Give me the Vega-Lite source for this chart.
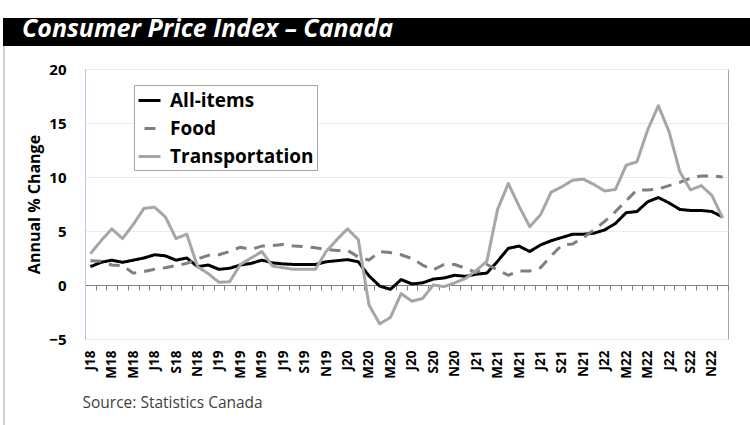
{
  "$schema": "https://vega.github.io/schema/vega-lite/v6.json",
  "width": 643,
  "height": 270,
  "autosize": {"type": "none"},
  "padding": {"left": 85, "top": 69, "right": 22, "bottom": 86},
  "background": "white",
  "config": {
    "font": "Open Sans",
    "view": {"stroke": "#a6a6a6"}
  },
  "layer": [
    {
      "data": {"values": [{}]},
      "mark": {"type": "rect", "color": "black"},
      "encoding": {
        "x": {"value": -82},
        "x2": {"value": 665},
        "y": {"value": -51},
        "y2": {"value": -23}
      }
    },
    {
      "data": {"values": [{"t": "Consumer Price Index – Canada"}]},
      "mark": {"type": "text", "color": "white", "font": "Open Sans", "fontSize": 25, "fontWeight": "bold", "fontStyle": "italic", "align": "left", "baseline": "alphabetic"},
      "encoding": {
        "text": {"field": "t", "type": "nominal"},
        "x": {"value": -63},
        "y": {"value": -32}
      }
    },
    {
      "data": {"values": [{}]},
      "mark": {"type": "rule", "color": "#a6a6a6", "strokeWidth": 1},
      "encoding": {
        "x": {"value": -81},
        "y": {"value": -23},
        "y2": {"value": 360}
      }
    },
    {
      "data": {
        "values": [
          {"month": "2018-01", "All-items": 1.7, "Food": 2.25, "Transportation": 2.9},
          {"month": "2018-02", "All-items": 2.1, "Food": 2.2, "Transportation": 4.1},
          {"month": "2018-03", "All-items": 2.3, "Food": 1.85, "Transportation": 5.2},
          {"month": "2018-04", "All-items": 2.1, "Food": 1.8, "Transportation": 4.3},
          {"month": "2018-05", "All-items": 2.3, "Food": 1.1, "Transportation": 5.6},
          {"month": "2018-06", "All-items": 2.5, "Food": 1.25, "Transportation": 7.1},
          {"month": "2018-07", "All-items": 2.8, "Food": 1.45, "Transportation": 7.2},
          {"month": "2018-08", "All-items": 2.7, "Food": 1.6, "Transportation": 6.3},
          {"month": "2018-09", "All-items": 2.3, "Food": 1.8, "Transportation": 4.3},
          {"month": "2018-10", "All-items": 2.5, "Food": 2.0, "Transportation": 4.7},
          {"month": "2018-11", "All-items": 1.7, "Food": 2.4, "Transportation": 1.7},
          {"month": "2018-12", "All-items": 1.85, "Food": 2.75, "Transportation": 1.05},
          {"month": "2019-01", "All-items": 1.45, "Food": 2.8, "Transportation": 0.25},
          {"month": "2019-02", "All-items": 1.55, "Food": 3.1, "Transportation": 0.3},
          {"month": "2019-03", "All-items": 1.85, "Food": 3.5, "Transportation": 1.9},
          {"month": "2019-04", "All-items": 2.0, "Food": 3.3, "Transportation": 2.5},
          {"month": "2019-05", "All-items": 2.3, "Food": 3.6, "Transportation": 3.1},
          {"month": "2019-06", "All-items": 2.05, "Food": 3.65, "Transportation": 1.75},
          {"month": "2019-07", "All-items": 1.95, "Food": 3.75, "Transportation": 1.6},
          {"month": "2019-08", "All-items": 1.9, "Food": 3.6, "Transportation": 1.45},
          {"month": "2019-09", "All-items": 1.9, "Food": 3.55, "Transportation": 1.45},
          {"month": "2019-10", "All-items": 1.9, "Food": 3.45, "Transportation": 1.45},
          {"month": "2019-11", "All-items": 2.15, "Food": 3.3, "Transportation": 3.1},
          {"month": "2019-12", "All-items": 2.25, "Food": 3.2, "Transportation": 4.2},
          {"month": "2020-01", "All-items": 2.35, "Food": 3.2, "Transportation": 5.2},
          {"month": "2020-02", "All-items": 2.15, "Food": 2.6, "Transportation": 4.2},
          {"month": "2020-03", "All-items": 0.85, "Food": 2.3, "Transportation": -1.85},
          {"month": "2020-04", "All-items": -0.1, "Food": 3.1, "Transportation": -3.6},
          {"month": "2020-05", "All-items": -0.4, "Food": 3.0, "Transportation": -3.0},
          {"month": "2020-06", "All-items": 0.5, "Food": 2.8, "Transportation": -0.8},
          {"month": "2020-07", "All-items": 0.1, "Food": 2.45, "Transportation": -1.5},
          {"month": "2020-08", "All-items": 0.2, "Food": 1.85, "Transportation": -1.25},
          {"month": "2020-09", "All-items": 0.55, "Food": 1.4, "Transportation": 0.0},
          {"month": "2020-10", "All-items": 0.65, "Food": 1.9, "Transportation": -0.15},
          {"month": "2020-11", "All-items": 0.9, "Food": 1.9, "Transportation": 0.2},
          {"month": "2020-12", "All-items": 0.8, "Food": 1.55, "Transportation": 0.6},
          {"month": "2021-01", "All-items": 1.0, "Food": 1.15, "Transportation": 1.35},
          {"month": "2021-02", "All-items": 1.1, "Food": 1.9, "Transportation": 2.2},
          {"month": "2021-03", "All-items": 2.2, "Food": 1.4, "Transportation": 7.0},
          {"month": "2021-04", "All-items": 3.4, "Food": 0.9, "Transportation": 9.4},
          {"month": "2021-05", "All-items": 3.6, "Food": 1.3, "Transportation": 7.3},
          {"month": "2021-06", "All-items": 3.1, "Food": 1.3, "Transportation": 5.4},
          {"month": "2021-07", "All-items": 3.7, "Food": 1.6, "Transportation": 6.5},
          {"month": "2021-08", "All-items": 4.1, "Food": 2.7, "Transportation": 8.6},
          {"month": "2021-09", "All-items": 4.4, "Food": 3.7, "Transportation": 9.1},
          {"month": "2021-10", "All-items": 4.7, "Food": 3.8, "Transportation": 9.7},
          {"month": "2021-11", "All-items": 4.7, "Food": 4.4, "Transportation": 9.8},
          {"month": "2021-12", "All-items": 4.8, "Food": 5.1, "Transportation": 9.3},
          {"month": "2022-01", "All-items": 5.1, "Food": 5.9, "Transportation": 8.7},
          {"month": "2022-02", "All-items": 5.7, "Food": 6.8, "Transportation": 8.85},
          {"month": "2022-03", "All-items": 6.7, "Food": 7.8, "Transportation": 11.1},
          {"month": "2022-04", "All-items": 6.8, "Food": 8.8, "Transportation": 11.4},
          {"month": "2022-05", "All-items": 7.7, "Food": 8.8, "Transportation": 14.35},
          {"month": "2022-06", "All-items": 8.1, "Food": 8.9, "Transportation": 16.6},
          {"month": "2022-07", "All-items": 7.6, "Food": 9.2, "Transportation": 14.2},
          {"month": "2022-08", "All-items": 7.0, "Food": 9.5, "Transportation": 10.5},
          {"month": "2022-09", "All-items": 6.9, "Food": 9.9, "Transportation": 8.8},
          {"month": "2022-10", "All-items": 6.9, "Food": 10.1, "Transportation": 9.2},
          {"month": "2022-11", "All-items": 6.8, "Food": 10.1, "Transportation": 8.3},
          {"month": "2022-12", "All-items": 6.3, "Food": 10.0, "Transportation": 6.2}
        ]
      },
      "transform": [
        {"fold": ["All-items", "Food", "Transportation"], "as": ["series", "value"]}
      ],
      "mark": {"type": "line", "strokeWidth": 3, "strokeJoin": "round"},
      "encoding": {
        "x": {
          "field": "month",
          "type": "ordinal",
          "scale": {"type": "band", "paddingInner": 0, "paddingOuter": 0},
          "axis": {
            "orient": "bottom",
            "offset": -54,
            "domainColor": "#808080",
            "domainWidth": 1,
            "ticks": true,
            "tickColor": "#808080",
            "tickSize": 5,
            "tickBand": "extent",
            "grid": false,
            "labelAngle": -90,
            "labelPadding": 60,
            "labelFont": "Open Sans",
            "labelFontSize": 13.5,
            "labelFontWeight": "bold",
            "labelColor": "black",
            "labelOverlap": false,
            "labelExpr": "isString(datum.value) && toNumber(substring(datum.value,5,7)) % 2 == 1 ? ['J','F','M','A','M','J','J','A','S','O','N','D'][toNumber(substring(datum.value,5,7))-1] + substring(datum.value,2,4) : ''",
            "title": "Source: Statistics Canada",
            "titleFont": "Open Sans",
            "titleFontSize": 15.5,
            "titleFontWeight": "normal",
            "titleColor": "#404040",
            "titleAlign": "left",
            "titleBaseline": "alphabetic",
            "titleX": -3,
            "titleY": 122
          }
        },
        "y": {
          "field": "value",
          "type": "quantitative",
          "scale": {"domain": [-5, 20], "nice": false, "zero": false},
          "axis": {
            "values": [-5, 0, 5, 10, 15, 20],
            "ticks": false,
            "domainColor": "#b4c7e7",
            "gridColor": "#ebebeb",
            "labelFont": "Open Sans",
            "labelFontSize": 15,
            "labelFontWeight": "bold",
            "labelColor": "black",
            "labelPadding": 19,
            "title": "Annual % Change",
            "titleFont": "Open Sans",
            "titleFontSize": 16,
            "titleFontWeight": "bold",
            "titleColor": "black",
            "titlePadding": 6
          }
        },
        "color": {
          "field": "series",
          "type": "nominal",
          "scale": {"domain": ["All-items", "Food", "Transportation"], "range": ["#000000", "#7f7f7f", "#a6a6a6"]},
          "legend": {
            "orient": "none", "legendX": 49, "legendY": 16, "title": null,
            "strokeColor": "#a6a6a6", "fillColor": "white", "padding": 3,
            "symbolType": "stroke", "symbolSize": 484, "symbolStrokeWidth": 3, "symbolDashOffset": 13,
            "labelFont": "Open Sans", "labelFontSize": 19, "labelFontWeight": "bold", "labelColor": "black",
            "labelOffset": 8, "rowPadding": 5
          }
        },
        "strokeDash": {
          "field": "series",
          "type": "nominal",
          "scale": {"domain": ["All-items", "Food", "Transportation"], "range": [[1, 0], [11, 8], [1, 0]]},
          "legend": {
            "orient": "none", "legendX": 49, "legendY": 16, "title": null,
            "strokeColor": "#a6a6a6", "fillColor": "white", "padding": 3,
            "symbolType": "stroke", "symbolSize": 484, "symbolStrokeWidth": 3, "symbolDashOffset": 13,
            "labelFont": "Open Sans", "labelFontSize": 19, "labelFontWeight": "bold", "labelColor": "black",
            "labelOffset": 8, "rowPadding": 5
          }
        }
      }
    }
  ]
}
